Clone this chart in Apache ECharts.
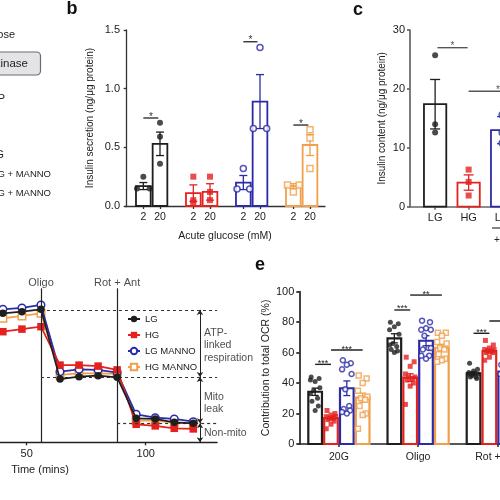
<!DOCTYPE html>
<html><head><meta charset="utf-8">
<script src="https://cdn.jsdelivr.net/npm/echarts@6/dist/echarts.min.js"></script>
<style>html,body{margin:0;padding:0;background:#fff}#c{width:500px;height:500px}</style>
</head><body><div id="c"></div>
<script>
// ---------- Panel b: insulin secretion ----------
const bXLabels = ['2','20','2','20','2','20','2','20'];
const bPos = [1,2,4,5,7,8,10,11];
const bColorIdx = [0,0,1,1,2,2,3,3];
const bMean = [0.17,0.53,0.11,0.12,0.20,0.89,0.17,0.52];
const bSem = [0.03,0.10,0.07,0.07,0.06,0.23,0.02,0.09];
const bPts = [[0.25,0.15,0.15],[0.71,0.59,0.36],[0.25,0.05,0.03],[0.25,0.12,0.05],
              [0.32,0.145,0.145],[1.35,0.66,0.66],[0.12,0.18,0.18],[0.65,0.58,0.32]];
const bJit = [[0,-0.38,0.38],[0,0,0],[0,0,0],[0,0,0],[0,-0.38,0.38],[0,-0.4,0.4],[0,-0.35,0.35],[0,0,0]];
const bSig = [[1,1.9,0.75],[7,7.85,1.40],[10,10.9,0.69]];
const bSigLabel = ['*','*','*'];

// ---------- Panel c: insulin content ----------
const cCats = ['LG','HG','LG'];
const cPos = [0.75,1.75,2.75];
const cColorIdx = [0,1,2];
const cMean = [17.4,4.1,13.0];
const cSem = [4.2,1.3,2.3];
const cPts = [[25.7,14.0,12.6],[6.3,4.2,1.9],[15.6,12.6,10.8]];
const cSig = [[0.82,1.72,27.0],[1.75,3.5,19.6]];
const cSigLabel = ['*','*'];

// ---------- Panel d: OCR trace ----------
const dTime = [40,48,56,64,72,80,88,96,104,112,120];
const dTicks = [50,100];
const dLG  = [64.5,65.3,66.5,31.6,32.8,33.3,32.5,12.0,11.7,10.0,9.5];
const dHG  = [55.3,56.6,57.8,38.6,38.6,38.1,36.2,9.0,8.2,7.0,6.7];
const dLGM = [66.5,67.2,68.7,35.3,36.5,36.2,34.8,14.0,12.3,11.7,10.3];
const dHGM = [62.0,63.2,64.5,33.7,34.5,34.5,34.2,10.8,10.8,9.8,9.5];
const dInject = [['Oligo',56],['Rot + Ant',88]];
const dInjectTop = 77;
const dInjectLabelY = 79.5;
const dLevelLines = [[56,130,66.2],[56,130,32.7],[88,130,9.5]];
const dArrowT = 122.8;
const dArrows = [[66.2,32.7],[32.7,9.5],[9.5,0]];
const dNoteT = 124.5;
const dNotes = [['ATP-\nlinked\nrespiration',48.5],['Mito\nleak',19.5],['Non-mito',4.5]];

// ---------- Panel e: contribution to total OCR ----------
const eCats = ['20G','Oligo','Rot + Ant'];
const eMean = [[34.3,69.4,46.4],[17.0,43.6,61.0],[36.6,67.8,47.5],[30.4,63.2,50.0]];
const eSem  = [[2.4,3.0,1.0],[1.1,2.5,1.2],[4.8,3.3,2.0],[3.0,2.3,2.0]];
const ePts = [
  [[44,43,41,42,37,35,30,28,25,22,33],[80,79,77,75,72,66,64,62,61,60,65],[53,49,48,47,46,45,44,44,43,46,46]],
  [[22,20,19,18,18,17,17,16,15,13,10],[57,54,51,46,44,44,43,42,40,38,26],[68,65,63,62,62,61,61,60,60,57,55]],
  [[55,53,52,49,46,36,25,23,22,20,21],[81,80,76,75,75,71,63,62,58,56,58,63],[52,50,48,46,45,44]],
  [[45,43,40,35,31,30,29,25,20,19,10],[73,73,71,67,66,63,62,59,56,55,54],[]]
];
const eJit = [-0.05,0.05,0,-0.06,0.06,-0.02,0.03,-0.04,0.04,0,-0.06,0.06];
const eSig = [[0.2,0.4,52.3],[0.4,0.8,61.7],[1.2,1.4,88],[1.4,1.8,97.8],[2.2,2.4,72.7],[2.4,2.8,80.8]];
const eSigLabel = ['***','***','***','**','***','***'];

// ---------- styling ----------
const TXT = '#222';
const COLORS = ['#1e1e1e','#e3211f','#2b2ba8','#f0a04c'];
const FONT = 'Liberation Sans, Arial, sans-serif';

function barSeries(xi, yi, pos, mean, sem, cidx, bw, cap, lw){
  const data = pos.map((p,i)=>[p, mean[i], sem[i], cidx[i]]);
  return {
    type:'custom', xAxisIndex:xi, yAxisIndex:yi, data, silent:true, clip:false, z:2,
    renderItem:(params, api)=>{
      const x=api.value(0), m=api.value(1), s=api.value(2), col=COLORS[api.value(3)];
      const a=api.coord([x-bw/2,0]), b=api.coord([x+bw/2,m]);
      const t=api.coord([x,m+s]), d=api.coord([x,m-s]);
      return {type:'group', children:[
        {type:'rect', shape:{x:a[0]+lw/2, y:b[1], width:b[0]-a[0]-lw, height:a[1]-b[1]}, style:{fill:'#fff', stroke:col, lineWidth:lw}},
        {type:'line', shape:{x1:t[0],y1:t[1],x2:d[0],y2:d[1]}, style:{stroke:col,lineWidth:1.3}},
        {type:'line', shape:{x1:t[0]-cap/2,y1:t[1],x2:t[0]+cap/2,y2:t[1]}, style:{stroke:col,lineWidth:1.3}},
        {type:'line', shape:{x1:d[0]-cap/2,y1:d[1],x2:d[0]+cap/2,y2:d[1]}, style:{stroke:col,lineWidth:1.3}}
      ]};
    }
  };
}
function sigSeries(xi, yi, data, labels, color, fs){
  return {
    type:'custom', xAxisIndex:xi, yAxisIndex:yi, data, silent:true, clip:false, z:3,
    renderItem:(params, api)=>{
      const a=api.coord([api.value(0), api.value(2)]), b=api.coord([api.value(1), api.value(2)]);
      return {type:'group', children:[
        {type:'line', shape:{x1:a[0],y1:a[1],x2:b[0],y2:b[1]}, style:{stroke:color, lineWidth:1.4}},
        {type:'text', style:{text:labels[params.dataIndex], x:(a[0]+b[0])/2, y:a[1]-1, align:'center', verticalAlign:'middle', fontSize:fs, fontFamily:FONT, fill:color}}
      ]};
    }
  };
}
const SYM = [
  {symbol:'circle', itemStyle:{color:COLORS[0]}},
  {symbol:'rect', itemStyle:{color:COLORS[1]}},
  {symbol:'circle', itemStyle:{color:'#fff', borderColor:COLORS[2], borderWidth:1.5}},
  {symbol:'rect', itemStyle:{color:'#fff', borderColor:COLORS[3], borderWidth:1.5}}
];
function ptsSeries(xi, yi, data, k, size){
  return Object.assign({type:'scatter', xAxisIndex:xi, yAxisIndex:yi, data, symbolSize:size, silent:true, z:4}, SYM[k]);
}

const bScatter = [0,1,2,3].map(k=>{
  const d=[]; bPos.forEach((p,i)=>{ if(bColorIdx[i]===k) bPts[i].forEach((v,j)=>d.push([p+bJit[i][j], v])); });
  return ptsSeries(0,0,d,k,6);
});
const cScatter = [0,1,2].map(k=>{
  const d=[]; cPos.forEach((p,i)=>{ if(cColorIdx[i]===k) cPts[i].forEach(v=>d.push([p, v])); });
  return ptsSeries(1,1,d,k,6);
});
const eBars = [0,1,2,3].map(k=>{
  const pos = eCats.map((c,g)=>g+0.2*(k+1));
  return barSeries(4,3,pos,eMean[k],eSem[k],pos.map(()=>k),0.2,7,2.2);
});
const eScatter = [0,1,2,3].map(k=>{
  const d=[]; ePts[k].forEach((arr,g)=>arr.forEach((v,j)=>d.push([g+0.2*(k+1)+eJit[j%eJit.length], v])));
  return ptsSeries(4,3,d,k,5);
});

const dNames = ['LG','HG','LG MANNO','HG MANNO'];
const dSeries = [dLG,dHG,dLGM,dHGM].map((arr,k)=>({
  type:'line', name:dNames[k], xAxisIndex:2, yAxisIndex:2,
  data: dTime.map((t,i)=>[t,arr[i]]),
  symbol: SYM[k].symbol, symbolSize:7.5, showSymbol:true,
  lineStyle:{color:COLORS[k], width:1.7},
  itemStyle: Object.assign({}, SYM[k].itemStyle, k>=2?{}:{borderWidth:0}),
  color: COLORS[k], z: 5-k, silent:true
}));
dSeries[0].markLine = {
  silent:true, symbol:['none','none'], label:{show:false}, animation:false,
  data: dInject.map(p=>[{coord:[p[1],0], lineStyle:{color:'#222', width:1.2, type:'solid'}},{coord:[p[1],dInjectTop]}])
    .concat(dLevelLines.map(l=>[{coord:[l[0],l[2]], lineStyle:{color:'#333', width:1.2, type:[3,3]}},{coord:[l[1],l[2]]}]))
};

const axisBase = (col,w)=>({axisLine:{show:true,lineStyle:{color:col,width:w}}, axisTick:{show:true,inside:false,length:3,lineStyle:{color:col,width:w}}, splitLine:{show:false}});

const option = {
  animation:false,
  backgroundColor:'#fff',
  textStyle:{fontFamily:FONT},
  grid:[
    {left:125, top:30, width:200, height:176, outerBoundsMode:'none'},
    {left:410, top:30, width:100, height:176.7, outerBoundsMode:'none'},
    {left:-92.3, top:242.3, width:309.4, height:200, outerBoundsMode:'none'},
    {left:299.3, top:291.7, width:237.6, height:152.3, outerBoundsMode:'none'}
  ],
  legend:{
    data:dNames, orient:'vertical', left:127, top:313, padding:0,
    itemWidth:12, itemHeight:8, itemGap:4,
    textStyle:{fontSize:9.5, color:TXT, lineHeight:12, fontFamily:FONT}
  },
  xAxis:[
    Object.assign(axisBase('#333',1.3), {type:'value', gridIndex:0, min:-0.1, max:11.9,
      axisLabel:{customValues:bPos, formatter:v=>bXLabels[bPos.indexOf(v)], fontSize:10.5, color:TXT, margin:6},
      axisTick:{show:true, customValues:bPos, length:3, lineStyle:{color:'#333',width:1.3}},
      name:'Acute glucose (mM)', nameLocation:'middle', nameGap:25, nameTextStyle:{fontSize:10.5, color:TXT}}),
    Object.assign(axisBase('#666',1.7), {type:'value', gridIndex:1, min:0, max:2.985,
      axisLabel:{customValues:cPos, formatter:v=>cCats[cPos.indexOf(v)], fontSize:11, color:TXT, margin:6},
      axisTick:{show:true, customValues:cPos, length:3, lineStyle:{color:'#666',width:1.5}}}),
    Object.assign(axisBase('#222',1.3), {type:'value', gridIndex:2, min:0, max:130, interval:50,
      axisLabel:{customValues:dTicks, fontSize:11, color:TXT, margin:6},
      axisTick:{show:true, customValues:dTicks, length:3, lineStyle:{color:'#222',width:1.3}}}),
    Object.assign(axisBase('#222',1.7), {type:'category', gridIndex:3, data:eCats, boundaryGap:true,
      axisTick:{show:true, alignWithLabel:true, length:3, lineStyle:{color:'#222',width:1.5}},
      axisLabel:{interval:0, fontSize:10.5, color:TXT, margin:8}}),
    {type:'value', gridIndex:3, min:0, max:3, show:false}
  ],
  yAxis:[
    Object.assign(axisBase('#333',1.3), {type:'value', gridIndex:0, min:0, max:1.5, interval:0.5,
      axisLabel:{formatter:v=>v.toFixed(1), fontSize:11, color:TXT, margin:5},
      name:'Insulin secretion (ng/\u03bcg protein)', nameLocation:'middle', nameGap:30, nameTextStyle:{fontSize:10, color:TXT}}),
    Object.assign(axisBase('#666',1.7), {type:'value', gridIndex:1, min:0, max:30, interval:10,
      axisLabel:{fontSize:11, color:TXT, margin:5},
      name:'Insulin content (ng/\u03bcg protein)', nameLocation:'middle', nameGap:23, nameTextStyle:{fontSize:10, color:TXT}}),
    {type:'value', gridIndex:2, min:0, max:100, show:false},
    Object.assign(axisBase('#222',1.7), {type:'value', gridIndex:3, min:0, max:100, interval:20,
      axisLabel:{fontSize:11, color:TXT, margin:5},
      name:'Contribution to total OCR (%)', nameLocation:'middle', nameGap:24, nameTextStyle:{fontSize:10.5, color:TXT}})
  ],
  graphic:[
    {type:'text', x:72, y:9, style:{text:'b', fontSize:18, fontWeight:'bold', fill:'#111', align:'center', verticalAlign:'middle', fontFamily:FONT}},
    {type:'text', x:358, y:10, style:{text:'c', fontSize:18, fontWeight:'bold', fill:'#111', align:'center', verticalAlign:'middle', fontFamily:FONT}},
    {type:'text', x:260, y:265, style:{text:'e', fontSize:18, fontWeight:'bold', fill:'#111', align:'center', verticalAlign:'middle', fontFamily:FONT}},
    {type:'text', x:15, y:35, style:{text:'Glucose', fontSize:11, fill:TXT, align:'right', verticalAlign:'middle', fontFamily:FONT}},
    {type:'rect', shape:{x:-20, y:52, width:60.5, height:23, r:4}, style:{fill:'#e4e4e6', stroke:'#6a6a72', lineWidth:1.2}},
    {type:'text', x:28, y:63.5, style:{text:'Glucokinase', fontSize:11.5, fill:TXT, align:'right', verticalAlign:'middle', fontFamily:FONT}},
    {type:'text', x:5, y:99, style:{text:'G6P', fontSize:11, fill:TXT, align:'right', verticalAlign:'middle', fontFamily:FONT}},
    {type:'text', x:4, y:155, style:{text:'HG', fontSize:10.5, fill:TXT, align:'right', verticalAlign:'middle', fontFamily:FONT}},
    {type:'text', x:51, y:174, style:{text:'LG + MANNO', fontSize:9.5, fill:TXT, align:'right', verticalAlign:'middle', fontFamily:FONT}},
    {type:'text', x:51, y:193, style:{text:'HG + MANNO', fontSize:9.5, fill:TXT, align:'right', verticalAlign:'middle', fontFamily:FONT}},
    {type:'line', shape:{x1:492, y1:228, x2:520, y2:228}, style:{stroke:'#333', lineWidth:1.2}},
    {type:'text', x:494, y:240, style:{text:'+ MANNO', fontSize:10, fill:TXT, align:'left', verticalAlign:'middle', fontFamily:FONT}},
    {type:'text', x:40, y:470, style:{text:'Time (mins)', fontSize:11, fill:TXT, align:'center', verticalAlign:'middle', fontFamily:FONT}}
  ],
  series:[
    barSeries(0,0,bPos,bMean,bSem,bColorIdx,0.99,8,1.8),
    ...bScatter,
    sigSeries(0,0,bSig,bSigLabel,'#333',10),
    barSeries(1,1,cPos,cMean,cSem,cColorIdx,0.72,10,1.8),
    ...cScatter,
    sigSeries(1,1,cSig,cSigLabel,'#555',10),
    ...dSeries,
    {type:'lines', coordinateSystem:'cartesian2d', xAxisIndex:2, yAxisIndex:2, silent:true,
     symbol:['arrow','arrow'], symbolSize:5, lineStyle:{color:'#222', width:1, opacity:1},
     data: dArrows.map(a=>({coords:[[dArrowT,a[0]],[dArrowT,a[1]]]}))},
    {type:'scatter', xAxisIndex:2, yAxisIndex:2, symbolSize:0, silent:true,
     data: dNotes.map(n=>({value:[dNoteT,n[1]], label:{formatter:n[0]}})),
     label:{show:true, position:'right', distance:0, align:'left', fontSize:10.5, lineHeight:12.5, color:TXT}},
    {type:'scatter', xAxisIndex:2, yAxisIndex:2, symbolSize:0, silent:true,
     data: dInject.map(p=>({value:[p[1],dInjectLabelY], label:{formatter:p[0]}})),
     label:{show:true, position:'inside', fontSize:11, color:TXT}},
    ...eBars,
    ...eScatter,
    sigSeries(4,3,eSig,eSigLabel,'#222',9)
  ]
};
const chart = echarts.init(document.getElementById('c'), null, {renderer:'canvas'});
chart.setOption(option);
</script>
</body></html>
